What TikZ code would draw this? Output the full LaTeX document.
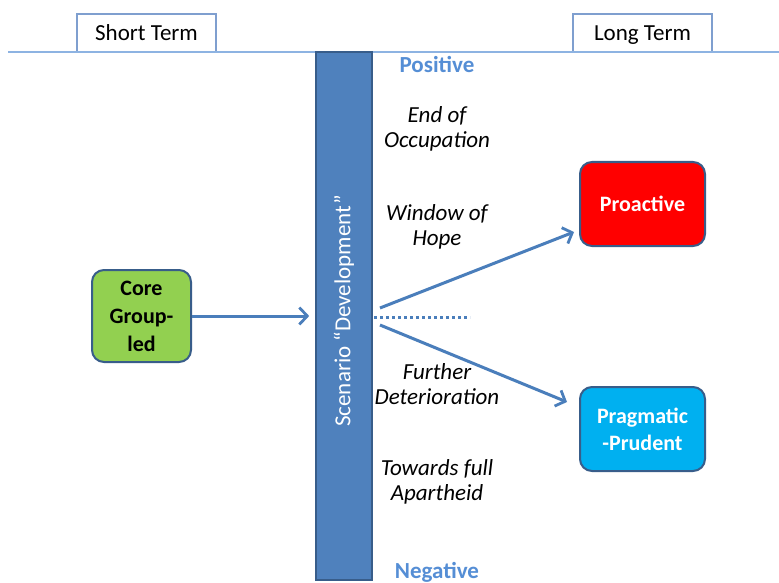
\documentclass[tikz,border=0pt]{standalone}
\usepackage{fontspec}
\setmainfont{Carlito}
\usetikzlibrary{arrows.meta,calc}
\definecolor{barblue}{HTML}{4F81BD}
\definecolor{bardark}{HTML}{385D8A}
\definecolor{arrblue}{HTML}{4A7EBB}
\definecolor{topline}{HTML}{8DB3E2}
\definecolor{termline}{HTML}{7F9FCF}
\definecolor{poscol}{HTML}{558ED5}
\definecolor{green}{HTML}{92D050}
\definecolor{cyanbox}{HTML}{00B0F0}
\begin{document}
\begin{tikzpicture}[x=1pt,y=-1pt,
  every node/.style={font=\fontsize{23}{25}\selectfont, inner sep=0pt, align=center},
  termbox/.style={draw=termline, line width=1.4pt, fill=white, minimum width=139pt, minimum height=38pt, text height=15pt, text depth=0pt},
  outbox/.style={draw=bardark, line width=2pt, rounded corners=12pt, minimum width=125pt, minimum height=84pt, text=white, font=\fontsize{22}{27}\selectfont\bfseries},
  lab/.style={font=\fontsize{23}{24.5}\selectfont\itshape},
  posneg/.style={text=poscol, font=\fontsize{23}{25}\selectfont\bfseries},
  conn/.style={draw=arrblue, line width=3pt, -{Straight Barb[length=8pt,width=17pt,line width=2.8pt]}}
]
\useasboundingbox (0,0) rectangle (779,583);
\fill[white] (0,0) rectangle (779,583);
% top line and term boxes
\node[termbox] (short) at (146.5,33) {Short Term};
\node[termbox] (long) at (642.5,33) {Long Term};
\coordinate (tl0) at (8,52);
\coordinate (tl1) at (779,52);
\draw[topline, line width=1.4pt] (tl0) -- (tl1);
% bar
\node[draw=bardark, line width=1.6pt, fill=barblue, minimum width=56pt, minimum height=528pt] (bar) at (344,316) {};
\node[rotate=90, text=white] (bartext) at (344,311) {Scenario \textquotedblleft Development\textquotedblright};
% labels
\node[posneg] (pos) at (437,64) {Positive};
\node[posneg] (neg) at (437,572) {Negative};
\node[lab] (l1) at (437,129) {End of\\Occupation};
\node[lab] (l2) at (437,227) {Window of\\Hope};
\node[lab] (l3) at (437,384) {Further\\Deterioration};
\node[lab] (l4) at (437,482) {Towards full\\Apartheid};
% core box
\node[draw=bardark, line width=2pt, rounded corners=12pt, fill=green, minimum width=99pt, minimum height=92pt, font=\fontsize{22}{28}\selectfont\bfseries] (core) at (141.5,316) {Core\\Group-\\led};
% outcome boxes
\node[outbox, fill=red] (pro) at (642.5,204) {Proactive};
\node[outbox, fill=cyanbox] (prag) at (642.5,429) {Pragmatic\\-Prudent};
% connectors
\draw[conn, shorten >=6pt] (core.east) -- (bar.west |- core.east);
\coordinate (s1) at (380,308);
\coordinate (s2) at (380,325);
\coordinate (e1) at ($(pro.west)+(-5,28)$);
\coordinate (e2) at ($(prag.west)+(-12,-27)$);
\draw[conn] (s1) -- (e1);
\draw[conn] (s2) -- (e2);
\coordinate (d1) at (374,317);
\coordinate (d2) at (470,317);
\draw[arrblue, line width=3pt, dash pattern=on 3pt off 3pt] (d1) -- (d2);
\end{tikzpicture}
\end{document}
